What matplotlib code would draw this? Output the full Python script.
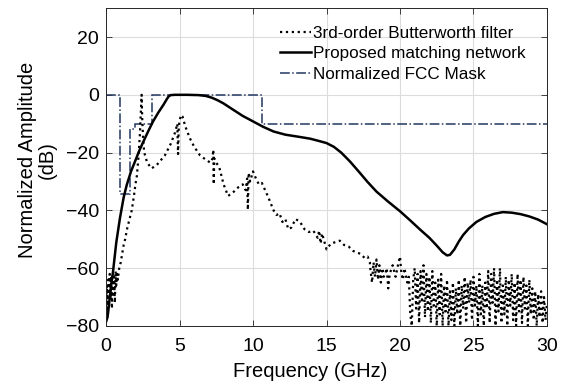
import matplotlib
matplotlib.use('Agg')
import matplotlib.pyplot as plt

plt.rcParams['font.family'] = ['Liberation Sans', 'DejaVu Sans']

# 3rd-order Butterworth filter response (GHz, dB)
bw_freq = [0.0, 0.05, 0.1, 0.15, 0.2, 0.25, 0.3, 0.35, 0.4, 0.45, 0.5, 0.55,
           0.6, 0.65, 0.7, 0.75, 0.8, 0.9, 1.0, 1.1, 1.2, 1.3, 1.45, 1.6,
           1.75, 1.9, 2.0, 2.1, 2.2, 2.3, 2.38, 2.42, 2.46, 2.52, 2.6, 2.8,
           3.1, 3.5, 4.0, 4.4, 4.7, 4.85, 4.9, 4.95, 5.0, 5.1, 5.2, 5.4, 5.7,
           6.0, 6.4, 6.8, 7.1, 7.25, 7.3, 7.33, 7.36, 7.5, 7.7, 8.0, 8.3, 8.6,
           9.0, 9.3, 9.5, 9.6, 9.65, 9.7, 9.8, 10.0, 10.2, 10.4, 10.6, 11.0,
           11.4, 11.6, 11.8, 12.0, 12.2, 12.4, 12.6, 12.9, 13.2, 13.5, 13.8,
           14.1, 14.4, 14.5, 14.6, 14.7, 15.0, 15.3, 15.6, 15.9, 16.2, 16.5,
           16.8, 17.0, 17.3, 17.6, 17.8, 17.95, 18.0, 18.1, 18.2, 18.3, 18.4,
           18.5, 18.6, 18.7, 18.8, 18.9, 19.0, 19.1, 19.2, 19.3, 19.5, 19.7,
           19.9, 20.0, 20.1, 20.2, 20.3, 20.5, 20.6, 20.7, 20.8, 20.9,
           21.0, 21.1, 21.2, 21.3, 21.4, 21.5, 21.6, 21.7, 21.8, 21.9,
           22.0, 22.1, 22.2, 22.3, 22.4, 22.5, 22.6, 22.7, 22.8, 22.9,
           23.0, 23.1, 23.2, 23.3, 23.4, 23.5, 23.6, 23.7, 23.8, 23.9,
           24.0, 24.1, 24.2, 24.3, 24.4, 24.5, 24.6, 24.7, 24.8, 24.9,
           25.0, 25.1, 25.2, 25.3, 25.4, 25.5, 25.6, 25.7, 25.8, 25.9,
           26.0, 26.1, 26.2, 26.3, 26.4, 26.5, 26.6, 26.7, 26.8, 26.9,
           27.0, 27.1, 27.2, 27.3, 27.4, 27.5, 27.6, 27.7, 27.8, 27.9,
           28.0, 28.1, 28.2, 28.3, 28.4, 28.5, 28.6, 28.7, 28.8, 28.9,
           29.0, 29.1, 29.2, 29.3, 29.4, 29.5, 29.6, 29.7, 29.8, 29.9, 30.0]
bw_db = [-73, -66, -75, -64, -72, -62, -71, -63, -74, -62, -69, -63,
         -72, -61, -66, -62, -64, -60, -58, -55, -52, -50, -46, -43,
         -40, -35, -31, -28, -22, -14, -5, 0, -8, -15, -20, -23.5,
         -25.5, -24, -21, -17, -13, -10, -20.5, -11, -9, -7, -7.5, -11, -15,
         -18, -21, -22.5, -23.5, -22, -19, -31, -22, -23.5, -25, -31, -35, -34,
         -32, -31, -33, -29, -39.8, -27, -30, -26.5, -29, -31, -30.5, -35,
         -40, -41.6, -41, -44, -43, -46.5, -46, -43, -44, -46.5, -47.5,
         -47, -49.5, -47, -51.5, -48, -53.5, -51.5, -51, -50.5, -52, -52.5,
         -54, -54.5, -55, -56.5, -56, -58, -61, -65, -58, -63, -57,
         -64, -59, -65, -60, -63, -62, -60, -67, -62, -59, -63,
         -58, -56, -62, -64, -60, -65, -63, -76, -80, -64,
         -60, -74, -62, -79, -61, -72, -59, -77, -62, -75,
         -63, -79, -61, -73, -65, -80, -64, -76, -62, -80,
         -66, -75, -64, -80, -68, -78, -65, -80, -67, -76,
         -64, -80, -66, -74, -63, -79, -65, -72, -64, -78,
         -63, -73, -66, -80, -62, -76, -66, -80, -65, -74,
         -61, -79, -62, -72, -60, -80, -64, -75, -60, -79,
         -66, -76, -63, -80, -64, -73, -62, -78, -65, -80,
         -62, -75, -64, -79, -63, -74, -66, -80, -64, -76,
         -67, -78, -68, -80, -69, -77, -68, -79, -70, -78, -72]

# Proposed matching network response
mn_freq = [0, 0.1, 0.15, 0.3, 0.48, 0.7, 0.95, 1.2, 1.41, 1.7, 1.97, 2.25,
           2.54, 2.9, 3.2, 3.55, 3.9, 4.1, 4.25, 4.4, 4.7, 5.5, 6.3, 6.8,
           7.2, 7.6, 8.0, 8.66, 9.3, 10.0, 10.7, 11.4, 12.2, 13.2, 13.9,
           14.5, 15.0, 15.5, 16.0, 16.6, 17.2, 17.8, 18.4, 19.2, 20.0, 20.7,
           21.4, 22.0, 22.5, 22.9, 23.2, 23.4, 23.7, 24.0, 24.3, 24.7, 25.2,
           25.8, 26.4, 27.0, 27.6, 28.2, 28.8, 29.4, 30.0]
mn_db = [-78.6, -77, -75, -68, -61, -51, -42.6, -35.5, -31.2, -26.5, -23.1,
         -19.5, -16.2, -12.3, -9.2, -6.2, -3.5, -1.8, -0.6, -0.1, 0, 0, -0.1,
         -0.4, -1.0, -1.9, -3.0, -5.2, -7.3, -9.2, -11.1, -12.7, -13.8, -14.6,
         -15.2, -16.0, -16.7, -18.0, -20.0, -23.1, -26.6, -30.2, -33.5, -37.0,
         -40.3, -43.5, -46.8, -49.5, -52.2, -54.5, -55.6, -55.4, -53.5, -50.8,
         -48.5, -46.2, -44.0, -42.3, -41.2, -40.6, -40.8, -41.3, -42.1, -43.2,
         -44.8]

# Normalized FCC indoor mask (band edges in GHz, level in dB)
fcc_edges = [0, 0.96, 1.61, 1.99, 3.1, 10.6, 30]
fcc_levels = [0, -34.3, -12, -10, 0, -10]

fig = plt.figure(figsize=(5.61, 3.88), dpi=100)
ax = fig.add_axes([0.189, 0.160, 0.786, 0.819])

ax.plot(bw_freq, bw_db, color='black', linestyle=':', linewidth=1.6,
        label='3rd-order Butterworth filter')
ax.plot(mn_freq, mn_db, color='black', linestyle='-', linewidth=1.8,
        label='Proposed matching network')
ax.stairs(fcc_levels, fcc_edges, baseline=None, color='#22375f',
          linestyle='-.', linewidth=1.1, label='Normalized FCC Mask')

ax.set_xlim(0, 30)
ax.set_ylim(-80, 30)
ax.set_xticks([0, 5, 10, 15, 20, 25, 30])
ax.set_yticks([-80, -60, -40, -20, 0, 20])
ax.grid(True, color='#dcdcdc', linewidth=0.8)
ax.set_axisbelow(True)
ax.tick_params(direction='in', top=True, right=True, length=4,
               labelsize=14, width=0.6, color='#262626')
ax.tick_params(axis='x', pad=9)
ax.tick_params(axis='y', pad=5)
for s in ax.spines.values():
    s.set_color('#262626')
    s.set_linewidth(0.7)

ax.set_xlabel('Frequency (GHz)', fontsize=14.5)
ax.set_ylabel('Normalized Amplitude\n(dB)', fontsize=14.5, linespacing=1.05)
ax.xaxis.set_label_coords(0.4626, -0.113)
ax.yaxis.set_label_coords(-0.111, 0.522)

leg = ax.legend(loc='upper right', frameon=False, fontsize=12.3,
                handlelength=1.8, handletextpad=0.15, labelspacing=0.32,
                borderaxespad=0, borderpad=0, bbox_to_anchor=(0.952, 0.945))

plt.savefig('out.png', dpi=100)
plt.close()
